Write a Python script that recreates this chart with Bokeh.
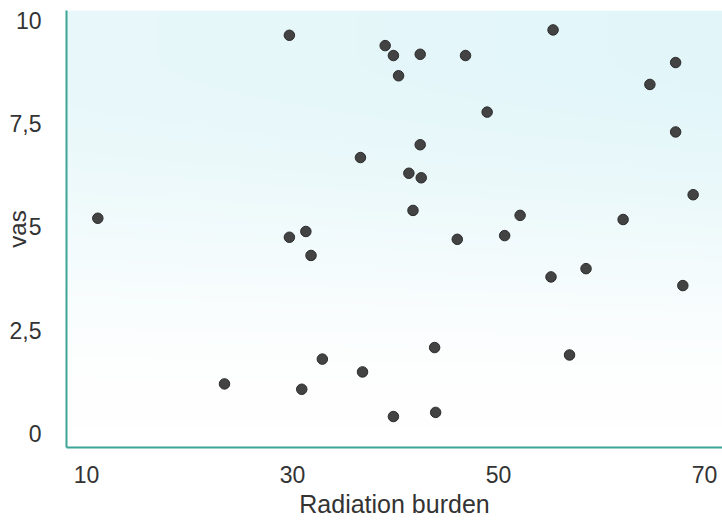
import numpy as np
from bokeh.plotting import figure
from bokeh.models import ColumnDataSource, FixedTicker, Range1d
from bokeh.embed import file_html
from bokeh.resources import INLINE

# ---- data ----
radiation = [11.1, 29.7, 39.0, 39.8, 42.4, 46.8, 40.3, 48.9, 42.4, 36.6,
             41.3, 42.5, 41.7, 29.7, 31.3, 46.0, 31.8, 32.9, 36.8, 30.9,
             43.8, 39.8, 43.9, 23.4, 55.3, 67.2, 64.7, 67.2, 68.9, 52.1,
             62.1, 50.6, 55.1, 58.5, 67.9, 56.9]
vas = [5.21, 9.64, 9.39, 9.15, 9.18, 9.15, 8.66, 7.78, 6.99, 6.68,
       6.30, 6.19, 5.40, 4.75, 4.89, 4.70, 4.31, 1.80, 1.49, 1.07,
       2.08, 0.41, 0.51, 1.20, 9.77, 8.98, 8.45, 7.30, 5.78, 5.28,
       5.18, 4.79, 3.79, 3.99, 3.58, 1.90]
x_ticks = [10, 30, 50, 70]
y_ticks = [0, 2.5, 5, 7.5, 10]
y_tick_labels = {0: "0", 2.5: "2,5", 5: "5", 7.5: "7,5", 10: "10"}

X0, X1 = 8.06, 71.75
Y0, Y1 = -0.34, 10.24

FONT = "Liberation Sans"

p = figure(width=722, height=520, output_backend="svg", toolbar_location=None,
           x_range=Range1d(X0, X1), y_range=Range1d(Y0, Y1),
           min_border_left=66, min_border_right=0, min_border_top=10,
           min_border_bottom=73)
p.outline_line_color = None
p.background_fill_color = "white"
p.border_fill_color = "white"

# background gradient (style only)
H, W = 200, 200
yy = np.linspace(0, 1, H)[:, None]  # 0 bottom, 1 top
xx = np.linspace(0, 1, W)[None, :]
s = np.clip((yy - 0.05) / 0.85, 0, 1)
s = s * s * (3 - 2 * s)
t = np.clip(s * (0.8 + 0.2 * xx), 0, 1)
top = np.array([226, 246, 249])
img = np.empty((H, W), dtype=np.uint32)
view = img.view(dtype=np.uint8).reshape((H, W, 4))
for c in range(3):
    view[:, :, c] = (255 + (top[c] - 255) * t).astype(np.uint8)
view[:, :, 3] = 255
p.image_rgba(image=[img], x=X0, y=Y0, dw=X1 - X0, dh=Y1 - Y0)

# grid
p.xgrid.ticker = FixedTicker(ticks=x_ticks)
p.ygrid.ticker = FixedTicker(ticks=y_ticks)
p.grid.grid_line_color = "white"
p.grid.grid_line_width = 2
p.grid.grid_line_alpha = 0.9

src = ColumnDataSource(dict(x=radiation, y=vas))
p.scatter("x", "y", source=src, size=10.5, fill_color="#434343",
          line_color="#2b2b2b", line_width=1)

for ax in (p.xaxis[0], p.yaxis[0]):
    ax.axis_line_color = "#3da596"
    ax.axis_line_width = 2
    ax.major_tick_line_color = None
    ax.minor_tick_line_color = None
    ax.major_label_text_font = FONT
    ax.major_label_text_font_size = "23px"
    ax.major_label_text_color = "#333333"
    ax.axis_label_text_font = FONT
    ax.axis_label_text_font_style = "normal"
    ax.axis_label_text_color = "#333333"

p.xaxis.axis_label_text_font_size = "25px"
p.yaxis.axis_label_text_font_size = "24px"
p.xaxis.ticker = FixedTicker(ticks=x_ticks)
p.yaxis.ticker = FixedTicker(ticks=y_ticks)
p.yaxis.major_label_overrides = y_tick_labels
p.xaxis.major_label_standoff = 12
p.yaxis.major_label_standoff = 19
p.xaxis.axis_label = "Radiation burden"
p.yaxis.axis_label = "vas"
p.xaxis.axis_label_standoff = 4
p.yaxis.axis_label_standoff = -24

open("out.html", "w").write(file_html(p, INLINE))
